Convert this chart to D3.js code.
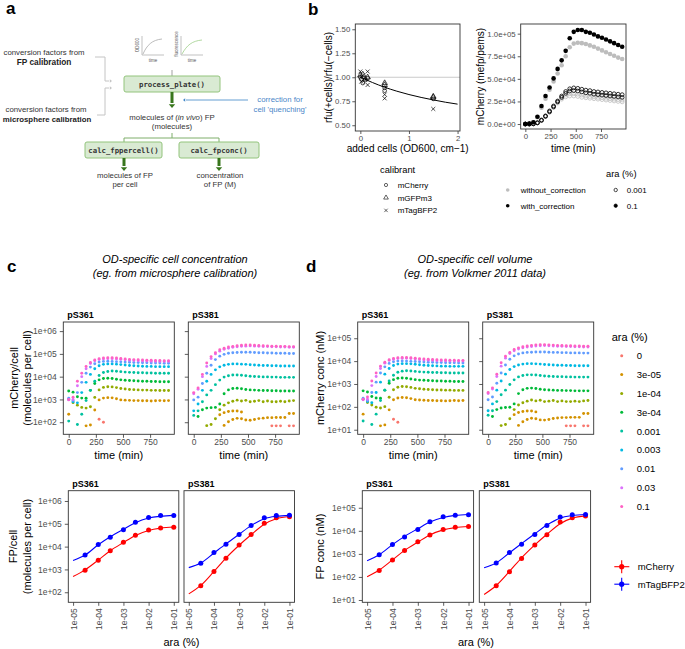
<!DOCTYPE html>
<html><head><meta charset="utf-8">
<script src="https://cdn.jsdelivr.net/npm/d3@7/dist/d3.min.js"></script>
<style>html,body{margin:0;padding:0;background:#fff;}svg{display:block;}</style>
</head><body><svg id="fig" width="685" height="649"></svg>
<script>
// ================= DATA =================
// panel b (left): quenching calibration
const calibAdded = [0,0.02,0.05,0.1,0.15,0.5,0.5,1.5, 0,0.05,0.1,0.15,0.5,0.5,1.5,1.5, 0,0.02,0.05,0.15,0.15,0.5,0.5,1.5];
const calibRatio = [1.0,0.98,0.94,0.97,0.99,0.89,0.86,0.775, 1.02,1.03,0.98,1.0,0.94,0.92,0.80,0.79, 1.06,0.955,1.02,1.06,0.92,0.82,0.78,0.67];
const calibName  = ["mCherry","mCherry","mCherry","mCherry","mCherry","mCherry","mCherry","mCherry",
  "mGFPm3","mGFPm3","mGFPm3","mGFPm3","mGFPm3","mGFPm3","mGFPm3","mGFPm3",
  "mTagBFP2","mTagBFP2","mTagBFP2","mTagBFP2","mTagBFP2","mTagBFP2","mTagBFP2","mTagBFP2"];
const calibrants = ["mCherry","mGFPm3","mTagBFP2"];
const quenchFitX = [0,0.25,0.5,0.75,1,1.25,1.5,1.75,2];
const quenchFitY = [1.0,0.945,0.896,0.855,0.82,0.79,0.764,0.74,0.72];

// panel b (right): mCherry (mefp/pems, x1000)
const timeB = [0,40,80,120,160,200,240,280,320,360,400,440,480,520,560,600,640,680,720,760,800,840,880,920,960];
const withCorr01     = [0,0.5,2,8,20,31,40.5,50.5,61,70.5,81,95,102,104,104,102,101,99,97,95.5,93.5,91.5,89.5,87.5,85.5];
const withoutCorr01  = [0,0.5,2,7.5,18,28,38,47,56,65,75,85,89,90,89.5,88.5,87,85.5,83.5,81.5,79.5,77.5,75.5,73.5,72];
const withCorr0001a  = [0,0,0.3,1.5,4.5,9,14.5,20,25.5,31,36,39,40,39.5,38.5,37.5,37,36,35.5,35,34.5,34,33.5,33,32.5];
const withCorr0001b  = [0,0,0.2,1.2,4,8.5,13.5,19,24.5,29.5,34,36.5,37,36.5,35.5,34.5,34,33,32.5,32,31.5,31,30.5,30,29.5];
const withoutCorr0001a = [0,0,0.3,1.4,4.3,8.7,14,19.2,24.3,29,32,33.5,33.5,33,32,31,30.5,30,29.5,29,28.5,28,27.5,27,26.5];
const withoutCorr0001b = [0,0,0.2,1.1,3.8,8.2,13,18.2,23.2,27.5,30,31,31,30.5,29.5,29,28.5,28,27.5,27,26.5,26,25.5,25,24.5];

// panels c/d (top): time courses, log10 values
const araLevels = ["0","3e-05","1e-04","3e-04","0.001","0.003","0.01","0.03","0.1"];
const araColors = ["#F8766D","#D39200","#93AA00","#00BA38","#00C19F","#00B9E3","#619CFF","#DB72FB","#FF61C3"];
const timeMin = [0,40,80,120,160,200,240,280,320,360,400,440,480,520,560,600,640,680,720,760,800,840,880,920];
const N = null;
const cellPS361 = [
 [N,N,N,N,N,N,N,2.13,2.0,N,N,N,N,N,N,N,N,N,N,N,N,N,N,N],
 [2.35,N,N,N,1.84,1.88,2.54,2.98,3.06,3.08,3.07,3.03,2.98,2.97,2.96,2.95,2.95,2.94,2.94,2.93,2.94,2.95,2.94,2.95],
 [N,2.86,2.75,2.65,2.62,2.68,3.09,3.42,3.53,3.56,3.55,3.52,3.48,3.46,3.44,3.43,3.42,3.41,3.41,3.40,3.40,3.39,3.39,3.39],
 [3.37,3.32,3.12,3.06,3.05,3.40,3.70,3.86,3.92,3.93,3.92,3.89,3.86,3.84,3.83,3.82,3.81,3.80,3.80,3.79,3.79,3.78,3.78,3.78],
 [2.05,N,1.90,2.35,2.95,3.40,3.80,4.05,4.18,4.23,4.25,4.24,4.22,4.20,4.19,4.18,4.17,4.17,4.16,4.16,4.15,4.15,4.15,4.15],
 [3.00,2.90,2.85,3.30,3.75,4.10,4.35,4.48,4.54,4.56,4.56,4.55,4.53,4.51,4.49,4.48,4.47,4.46,4.45,4.45,4.44,4.44,4.44,4.44],
 [3.05,2.95,3.30,3.75,4.15,4.42,4.57,4.64,4.67,4.68,4.67,4.66,4.65,4.64,4.63,4.62,4.62,4.61,4.61,4.60,4.60,4.60,4.59,4.59],
 [2.98,3.00,3.60,4.00,4.35,4.58,4.70,4.75,4.78,4.79,4.79,4.78,4.76,4.74,4.72,4.71,4.70,4.69,4.69,4.68,4.68,4.67,4.67,4.67],
 [3.00,3.10,3.80,4.15,4.45,4.62,4.73,4.79,4.82,4.83,4.83,4.82,4.80,4.78,4.76,4.75,4.74,4.73,4.72,4.72,4.71,4.71,4.70,4.70]];
const cellPS381 = [
 [N,N,N,N,N,N,N,N,N,N,N,N,N,N,N,N,N,N,1.84,1.84,1.84,N,1.84,1.84],
 [N,N,N,N,N,N,2.33,2.42,2.47,2.49,2.49,2.45,N,N,N,N,N,N,N,N,N,N,2.38,2.38],
 [N,N,N,1.85,1.90,2.15,2.55,2.75,2.85,2.92,2.97,2.93,2.96,2.90,2.92,2.95,2.90,2.93,2.90,2.90,2.92,2.90,2.93,2.95],
 [N,2.25,2.55,2.62,2.64,2.65,2.80,3.25,3.42,3.48,3.49,3.47,3.44,3.42,3.41,3.40,3.39,3.39,3.38,3.38,3.37,3.37,3.37,3.37],
 [2.30,2.50,2.90,3.20,3.40,3.65,3.85,3.98,4.04,4.07,4.07,4.06,4.04,4.02,4.01,4.00,3.99,3.99,3.98,3.98,3.97,3.97,3.97,3.97],
 [2.50,2.80,3.40,3.80,4.10,4.30,4.43,4.50,4.54,4.56,4.56,4.55,4.54,4.52,4.51,4.50,4.49,4.49,4.48,4.48,4.47,4.47,4.47,4.47],
 [2.98,3.10,3.70,4.15,4.50,4.75,4.90,4.98,5.03,5.05,5.06,5.07,5.07,5.07,5.06,5.05,5.05,5.04,5.04,5.03,5.03,5.03,5.02,5.02],
 [3.25,3.45,4.00,4.45,4.80,5.00,5.12,5.20,5.25,5.29,5.31,5.33,5.34,5.35,5.34,5.33,5.32,5.32,5.31,5.31,5.30,5.30,5.29,5.29],
 [3.30,3.50,4.10,4.60,4.88,5.05,5.18,5.25,5.30,5.33,5.36,5.38,5.39,5.39,5.38,5.37,5.36,5.35,5.34,5.34,5.33,5.33,5.32,5.32]];
const cellPS381_3e05_rep2 = [N,N,N,N,N,N,N,1.86,2.02,2.12,2.17,2.15,2.10,2.09,2.12,2.16,2.18,2.20,2.20,2.21,2.21,2.21,N,N];
const concPS361 = [
 [N,N,N,N,N,N,N,1.46,1.33,N,N,N,N,N,N,N,N,N,N,N,N,N,N,N],
 [1.68,N,N,N,1.17,1.21,1.87,2.31,2.39,2.41,2.40,2.36,2.31,2.30,2.29,2.28,2.28,2.27,2.27,2.26,2.27,2.28,2.27,2.28],
 [N,2.19,2.08,1.98,1.95,2.01,2.42,2.75,2.86,2.89,2.88,2.85,2.81,2.79,2.77,2.76,2.75,2.74,2.74,2.73,2.73,2.72,2.72,2.72],
 [2.70,2.65,2.45,2.39,2.38,2.73,3.03,3.19,3.25,3.26,3.25,3.22,3.19,3.17,3.16,3.15,3.14,3.13,3.13,3.12,3.12,3.11,3.11,3.11],
 [1.38,N,1.23,1.68,2.28,2.73,3.13,3.38,3.51,3.56,3.58,3.57,3.55,3.53,3.52,3.51,3.50,3.50,3.49,3.49,3.48,3.48,3.48,3.48],
 [2.33,2.23,2.18,2.63,3.08,3.43,3.68,3.81,3.87,3.89,3.89,3.88,3.86,3.84,3.82,3.81,3.80,3.79,3.78,3.78,3.77,3.77,3.77,3.77],
 [2.38,2.28,2.63,3.08,3.48,3.75,3.90,3.97,4.00,4.01,4.00,3.99,3.98,3.97,3.96,3.95,3.95,3.94,3.94,3.93,3.93,3.93,3.92,3.92],
 [2.31,2.33,2.93,3.33,3.68,3.91,4.03,4.08,4.11,4.12,4.12,4.11,4.09,4.07,4.05,4.04,4.03,4.02,4.02,4.01,4.01,4.00,4.00,4.00],
 [2.33,2.43,3.13,3.48,3.78,3.95,4.06,4.12,4.15,4.16,4.16,4.15,4.13,4.11,4.09,4.08,4.07,4.06,4.05,4.05,4.04,4.04,4.03,4.03]];
const concPS381 = [
 [N,N,N,N,N,N,N,N,N,N,N,N,N,N,N,N,N,N,1.17,1.17,1.17,N,1.17,1.17],
 [N,N,N,N,N,N,1.66,1.75,1.80,1.82,1.82,1.78,N,N,N,N,N,N,N,N,N,N,1.71,1.71],
 [N,N,N,1.18,1.23,1.48,1.88,2.08,2.18,2.25,2.30,2.26,2.29,2.23,2.25,2.28,2.23,2.26,2.23,2.23,2.25,2.23,2.26,2.28],
 [N,1.58,1.88,1.95,1.97,1.98,2.13,2.58,2.75,2.81,2.82,2.80,2.77,2.75,2.74,2.73,2.72,2.72,2.71,2.71,2.70,2.70,2.70,2.70],
 [1.63,1.83,2.23,2.53,2.73,2.98,3.18,3.31,3.37,3.40,3.40,3.39,3.37,3.35,3.34,3.33,3.32,3.32,3.31,3.31,3.30,3.30,3.30,3.30],
 [1.83,2.13,2.73,3.13,3.43,3.63,3.76,3.83,3.87,3.89,3.89,3.88,3.87,3.85,3.84,3.83,3.82,3.82,3.81,3.81,3.80,3.80,3.80,3.80],
 [2.31,2.43,3.03,3.48,3.83,4.08,4.23,4.31,4.36,4.38,4.39,4.40,4.40,4.40,4.39,4.38,4.38,4.37,4.37,4.36,4.36,4.36,4.35,4.35],
 [2.58,2.78,3.33,3.78,4.13,4.33,4.45,4.53,4.58,4.62,4.64,4.66,4.67,4.68,4.67,4.66,4.65,4.65,4.64,4.64,4.63,4.63,4.62,4.62],
 [2.63,2.83,3.43,3.93,4.21,4.38,4.51,4.58,4.63,4.66,4.69,4.71,4.72,4.72,4.71,4.70,4.69,4.68,4.67,4.67,4.66,4.66,4.65,4.65]];
const concPS381_3e05_rep2 = [N,N,N,N,N,N,N,1.19,1.35,1.45,1.50,1.48,1.43,1.42,1.45,1.49,1.51,1.53,1.53,1.54,1.54,1.54,N,N];

// panels c/d (bottom): dose response, log10 values
const araDose = [3e-5,1e-4,3e-4,1e-3,3e-3,1e-2,3e-2,1e-1];
const fitDose = [1e-5,3e-5,1e-4,3e-4,1e-3,3e-3,1e-2,3e-2,1e-1];
const cellMCherry361 = [2.96,3.40,3.82,4.19,4.50,4.73,4.82,4.85];
const cellBFP361     = [3.635,4.09,4.41,4.74,5.07,5.28,5.36,5.36];
const cellMCherry381 = [2.29,2.91,3.49,4.07,4.53,5.02,5.26,5.31];
const cellBFP381     = [3.27,3.74,4.10,4.53,4.92,5.27,5.36,5.37];
const fitCellMCherry361 = [2.69,2.98,3.41,3.82,4.18,4.49,4.71,4.81,4.86];
const fitCellBFP361     = [3.39,3.63,4.08,4.43,4.76,5.05,5.25,5.33,5.37];
const fitCellMCherry381 = [1.93,2.30,2.91,3.50,4.06,4.52,4.98,5.22,5.32];
const fitCellBFP381     = [3.08,3.28,3.72,4.12,4.54,4.92,5.22,5.33,5.37];
const concMCherry361 = [2.28,2.73,3.15,3.53,3.82,4.06,4.15,4.19];
const concBFP361     = [2.96,3.41,3.73,4.06,4.39,4.61,4.68,4.70];
const concMCherry381 = [1.62,2.23,2.80,3.38,3.83,4.38,4.57,4.64];
const concBFP381     = [2.60,3.06,3.42,3.84,4.23,4.60,4.70,4.71];
const fitConcMCherry361 = [2.01,2.30,2.74,3.15,3.51,3.82,4.04,4.14,4.19];
const fitConcBFP361     = [2.70,2.96,3.40,3.76,4.09,4.38,4.58,4.67,4.71];
const fitConcMCherry381 = [1.24,1.63,2.24,2.83,3.39,3.85,4.31,4.55,4.65];
const fitConcBFP381     = [2.40,2.61,3.05,3.45,3.87,4.25,4.55,4.66,4.71];
const fpNames = ["mCherry","mTagBFP2"];
const fpColors = ["#FF0000","#0000FF"];

// ================= DRAWING =================
const FONT = "'Liberation Sans', Arial, Helvetica, sans-serif";
const MONO = "'DejaVu Sans Mono', 'Liberation Mono', monospace";
const svg = d3.select("#fig");
svg.append("rect").attr("width",685).attr("height",649).attr("fill","#fff");

function txt(g,x,y,s,o={}){
  const t=g.append("text").attr("x",x).attr("y",y).text(s)
    .attr("font-family",o.family||FONT).attr("font-size",o.size||10)
    .attr("fill",o.fill||"#000").attr("text-anchor",o.anchor||"start");
  if(o.weight) t.attr("font-weight",o.weight);
  if(o.style) t.attr("font-style",o.style);
  if(o.dy) t.attr("dy",o.dy);
  if(o.rotate) t.attr("transform",`rotate(${o.rotate},${x},${y})`);
  return t;
}
function frame(g,l,t,w,h){
  g.append("rect").attr("x",l).attr("y",t).attr("width",w).attr("height",h)
   .attr("fill","none").attr("stroke","#333").attr("stroke-width",0.9);
}
function drawAxis(g,axis,tx,ty,fs){
  const a=g.append("g").attr("transform",`translate(${tx},${ty})`).call(axis);
  a.select(".domain").remove();
  a.attr("font-family",FONT).attr("font-size",fs);
  a.selectAll(".tick line").attr("stroke","#333").attr("stroke-width",0.8);
  a.selectAll(".tick text").attr("fill","#4d4d4d");
  return a;
}
function logFmt(v){const e=Math.round(Math.log10(v));return "1e"+(e<0?"-":"+")+String(Math.abs(e)).padStart(2,"0");}
function sciFmt(v){ if(v===0) return "0.0e+00"; const e=Math.floor(Math.log10(v)+1e-9); const m=v/Math.pow(10,e);
  return m.toFixed(1)+"e"+(e<0?"-":"+")+String(Math.abs(e)).padStart(2,"0"); }
function arrowHead(g,x,y,dir,size,color){
  let p;
  if(dir==='down') p=[[x-size,y-size*1.2],[x+size,y-size*1.2],[x,y]];
  else if(dir==='right') p=[[x-size*1.2,y-size],[x-size*1.2,y+size],[x,y]];
  else p=[[x+size*1.2,y-size],[x+size*1.2,y+size],[x,y]];
  g.append("path").attr("d","M"+p.map(d=>d.join(",")).join("L")+"Z").attr("fill",color);
}

// ---------- Panel a (schematic) ----------
const A = svg.append("g");
txt(A,6,14,"a",{size:17,weight:"bold"});
txt(A,44,55,"conversion factors from",{size:7.8,anchor:"middle",fill:"#333"});
txt(A,44,64.5,"FP calibration",{size:8.3,anchor:"middle",weight:"bold",fill:"#222"});
txt(A,46,112,"conversion factors from",{size:7.8,anchor:"middle",fill:"#333"});
txt(A,47,121.5,"microsphere calibration",{size:7.8,anchor:"middle",weight:"bold",fill:"#222"});
A.append("path").attr("d","M95,57H105V81H109M97,115H105V88H109").attr("fill","none").attr("stroke","#c4c4c4").attr("stroke-width",1);
arrowHead(A,112,81,'right',1.8,"#c4c4c4");
arrowHead(A,112,88,'right',1.8,"#c4c4c4");
// mini charts
A.append("path").attr("d","M142,36V55H164").attr("fill","none").attr("stroke","#999").attr("stroke-width",0.6);
A.append("path").attr("d","M143,54C147,45 152,40 162,39").attr("fill","none").attr("stroke","#aaa").attr("stroke-width",0.8);
txt(A,139,45,"OD600",{size:4.5,anchor:"middle",fill:"#555",rotate:-90});
txt(A,153,61.5,"time",{size:4.5,anchor:"middle",fill:"#555"});
A.append("path").attr("d","M181,36V55H203").attr("fill","none").attr("stroke","#999").attr("stroke-width",0.6);
A.append("path").attr("d","M182,54C187,45 192,41 202,40").attr("fill","none").attr("stroke","#9fcf8a").attr("stroke-width",0.8);
txt(A,178,44,"fluorescence",{size:4.5,anchor:"middle",fill:"#555",rotate:-90});
txt(A,192,61.5,"time",{size:4.5,anchor:"middle",fill:"#555"});
A.append("line").attr("x1",172).attr("x2",172).attr("y1",70).attr("y2",76).attr("stroke","#d0d0d0").attr("stroke-width",2);
function box(x,y,w,h,label){
  A.append("rect").attr("x",x).attr("y",y).attr("width",w).attr("height",h).attr("rx",2)
   .attr("fill","#d9ead3").attr("stroke","#93c47d").attr("stroke-width",1);
  txt(A,x+w/2,y+h/2+2.6,label,{family:MONO,size:7.3,anchor:"middle",weight:"bold",fill:"#333"});
}
box(124,76,96,16,"process_plate()");
A.append("line").attr("x1",172).attr("x2",172).attr("y1",92).attr("y2",103).attr("stroke","#38761d").attr("stroke-width",3);
arrowHead(A,172,108,'down',3.2,"#38761d");
A.append("line").attr("x1",248).attr("x2",186).attr("y1",100).attr("y2",100).attr("stroke","#3d85c6").attr("stroke-width",0.8);
arrowHead(A,183,100,'left',1.8,"#3d85c6");
const mt = txt(A,172,120,"",{size:7.8,anchor:"middle",fill:"#333"});
mt.append("tspan").text("molecules of (");
mt.append("tspan").attr("font-style","italic").text("in vivo");
mt.append("tspan").text(") FP");
txt(A,172,129,"(molecules)",{size:7.8,anchor:"middle",fill:"#333"});
A.append("path").attr("d","M172,133V138M124,142V138H219V142").attr("fill","none").attr("stroke","#7fae6a").attr("stroke-width",1);
box(85,142,77,16,"calc_fppercell()");
box(179,142,80,16,"calc_fpconc()");
[124,219].forEach(x=>{
  A.append("line").attr("x1",x).attr("x2",x).attr("y1",158).attr("y2",166).attr("stroke","#38761d").attr("stroke-width",3);
  arrowHead(A,x,171,'down',3.2,"#38761d");
});
txt(A,125,178,"molecules of FP",{size:7.8,anchor:"middle",fill:"#333"});
txt(A,125,187,"per cell",{size:7.8,anchor:"middle",fill:"#333"});
txt(A,220,178,"concentration",{size:7.8,anchor:"middle",fill:"#333"});
txt(A,220,187,"of FP (M)",{size:7.8,anchor:"middle",fill:"#333"});
txt(A,280,101.5,"correction for",{size:7.8,anchor:"middle",fill:"#4a86c8"});
txt(A,280,112,"cell 'quenching'",{size:7.8,anchor:"middle",fill:"#4a86c8"});

// ---------- Panel b ----------
const B = svg.append("g");
txt(B,308,15,"b",{size:17,weight:"bold"});
const bL={l:355.3,t:24,w:104.7,h:107};
const xQ=d3.scaleLinear().domain([-0.104,2.05]).range([bL.l,bL.l+bL.w]);
const yQ=d3.scaleLinear().domain([0.44,1.555]).range([bL.t+bL.h,bL.t]);
B.append("line").attr("x1",bL.l).attr("x2",bL.l+bL.w).attr("y1",yQ(1)).attr("y2",yQ(1)).attr("stroke","#bdbdbd").attr("stroke-width",0.8);
B.append("path").datum(quenchFitX.map((x,i)=>[x,quenchFitY[i]]))
 .attr("d",d3.line().x(d=>xQ(d[0])).y(d=>yQ(d[1])).curve(d3.curveMonotoneX))
 .attr("fill","none").attr("stroke","#000").attr("stroke-width",1);
const symTypes={mCherry:d3.symbolCircle,mGFPm3:d3.symbolTriangle,mTagBFP2:d3.symbolTimes};
const symSizes={mCherry:11,mGFPm3:13,mTagBFP2:12};
calibAdded.forEach((x,i)=>{
  const n=calibName[i];
  B.append("path").attr("d",d3.symbol().type(symTypes[n]).size(symSizes[n])())
   .attr("transform",`translate(${xQ(x)},${yQ(calibRatio[i])})`)
   .attr("fill","none").attr("stroke","#000").attr("stroke-width",0.7);
});
frame(B,bL.l,bL.t,bL.w,bL.h);
drawAxis(B,d3.axisLeft(yQ).tickValues([0.5,0.75,1,1.25,1.5]).tickFormat(d3.format(".2f")).tickSize(3).tickPadding(2),bL.l,0,7.8);
drawAxis(B,d3.axisBottom(xQ).tickValues([0,1,2]).tickFormat(d3.format("d")).tickSize(3).tickPadding(1.5),0,bL.t+bL.h,7.8);
txt(B,bL.l+bL.w/2,152,"added cells (OD600, cm\u22121)",{size:10,anchor:"middle"});
txt(B,328,bL.t+bL.h/2,"rfu(+cells)/rfu(\u2212cells)",{size:10,anchor:"middle",rotate:-90,dy:"0.35em"});

const bR={l:520.7,t:24,w:105.3,h:105};
const xT=d3.scaleLinear().domain([-46,998]).range([bR.l,bR.l+bR.w]);
const yT=d3.scaleLinear().domain([-5500,110700]).range([bR.t+bR.h,bR.t]);
const bSeries=[
  {v:withoutCorr01,fill:"#bdbdbd",stroke:"none"},
  {v:withoutCorr0001a,fill:"none",stroke:"#bdbdbd"},
  {v:withoutCorr0001b,fill:"none",stroke:"#bdbdbd"},
  {v:withCorr01,fill:"#000",stroke:"none"},
  {v:withCorr0001a,fill:"none",stroke:"#000"},
  {v:withCorr0001b,fill:"none",stroke:"#000"}];
bSeries.forEach(s=>{
  B.append("g").selectAll("circle").data(timeB.map((t,j)=>[t,s.v[j]*1000])).join("circle")
   .attr("cx",d=>xT(d[0])).attr("cy",d=>yT(d[1])).attr("r",s.fill==="none"?1.9:2.3)
   .attr("fill",s.fill).attr("stroke",s.stroke).attr("stroke-width",0.8);
});
frame(B,bR.l,bR.t,bR.w,bR.h);
drawAxis(B,d3.axisLeft(yT).tickValues([0,25000,50000,75000,100000]).tickFormat(sciFmt).tickSize(3).tickPadding(2),bR.l,0,7.8);
drawAxis(B,d3.axisBottom(xT).tickValues([0,250,500,750]).tickSize(3).tickPadding(1.5),0,bR.t+bR.h,7.8);
txt(B,bR.l+bR.w/2,152,"time (min)",{size:10,anchor:"middle"});
txt(B,480.7,bR.t+bR.h/2,"mCherry (mefp/pems)",{size:10,anchor:"middle",rotate:-90,dy:"0.35em"});

txt(B,380,172.5,"calibrant",{size:9.3});
calibrants.forEach((n,i)=>{
  const y=185+i*12.7;
  B.append("path").attr("d",d3.symbol().type(symTypes[n]).size(symSizes[n]*0.75)())
   .attr("transform",`translate(386,${y})`).attr("fill","none").attr("stroke","#000").attr("stroke-width",0.6);
  txt(B,397.7,y+2.8,n,{size:8});
});
[["without_correction","#bdbdbd"],["with_correction","#000"]].forEach((d,i)=>{
  const y=190+i*15.7;
  B.append("circle").attr("cx",507.7).attr("cy",y).attr("r",1.8).attr("fill",d[1]);
  txt(B,520.7,y+2.8,d[0],{size:8});
});
txt(B,606,176.5,"ara (%)",{size:9.3});
[["0.001",false],["0.1",true]].forEach((d,i)=>{
  const y=190+i*15.7;
  B.append("circle").attr("cx",615.7).attr("cy",y).attr("r",1.7).attr("fill",d[1]?"#000":"none").attr("stroke","#000").attr("stroke-width",0.7);
  txt(B,626.7,y+2.8,d[0],{size:8});
});

// ---------- Panels c & d ----------
const C = svg.append("g");
txt(C,7,272,"c",{size:17,weight:"bold"});
txt(C,306,272,"d",{size:17,weight:"bold"});
txt(C,175,263,"OD-specific cell concentration",{size:11,style:"italic",anchor:"middle"});
txt(C,175,277,"(eg. from microsphere calibration)",{size:11,style:"italic",anchor:"middle"});
txt(C,475,263,"OD-specific cell volume",{size:11,style:"italic",anchor:"middle"});
txt(C,475,277,"(eg. from Volkmer 2011 data)",{size:11,style:"italic",anchor:"middle"});

function seriesList(arr, rep2){
  const s=[];
  arr.forEach((v,i)=>{ s.push({vals:v,color:araColors[i]}); if(i===1) s.push({vals:rep2,color:araColors[1]}); });
  return s;
}
function timePanel(left,top,w,h,logDom,series,exps,showLabels,strip){
  const x=d3.scaleLinear().domain([-50,973]).range([left,left+w]);
  const y=d3.scaleLog().domain([Math.pow(10,logDom[0]),Math.pow(10,logDom[1])]).range([top+h,top]);
  series.forEach(s=>{
    const pts=timeMin.map((t,j)=>[t,s.vals[j]]).filter(d=>d[1]!==null);
    C.append("g").selectAll("circle").data(pts).join("circle")
     .attr("cx",d=>x(d[0])).attr("cy",d=>y(Math.pow(10,d[1]))).attr("r",1.45).attr("fill",s.color);
  });
  frame(C,left,top,w,h);
  drawAxis(C,d3.axisLeft(y).tickValues(exps.map(e=>Math.pow(10,e))).tickFormat(showLabels?logFmt:()=>"").tickSize(3.5).tickPadding(3),left,0,8.5);
  drawAxis(C,d3.axisBottom(x).tickValues([0,250,500,750]).tickFormat(d3.format("d")).tickSize(3.5).tickPadding(1.5),0,top+h,8.5);
  txt(C,left+w/2,459,"time (min)",{size:11,anchor:"middle"});
  txt(C,left+4,317.5,strip,{size:9,weight:"bold"});
}
const topY=322, topH=112.3, topW=111;
timePanel(63.3,topY,topW,topH,[1.47,6.40],seriesList(cellPS361,Array(24).fill(null)),[2,3,4,5,6],true,"pS361");
timePanel(188.3,topY,topW,topH,[1.47,6.40],seriesList(cellPS381,cellPS381_3e05_rep2),[2,3,4,5,6],false,"pS381");
timePanel(357.7,topY,topW,topH,[0.80,5.71],seriesList(concPS361,Array(24).fill(null)),[1,2,3,4,5],true,"pS361");
timePanel(482.7,topY,topW,topH,[0.80,5.71],seriesList(concPS381,concPS381_3e05_rep2),[1,2,3,4,5],false,"pS381");
txt(C,14,378,"mCherry/cell",{size:11,anchor:"middle",rotate:-90,dy:"0.35em"});
txt(C,27.5,378,"(molecules per cell)",{size:11,anchor:"middle",rotate:-90,dy:"0.35em"});
txt(C,320,378,"mCherry conc (nM)",{size:11,anchor:"middle",rotate:-90,dy:"0.35em"});

txt(C,611.7,340.5,"ara (%)",{size:11});
araLevels.forEach((lv,i)=>{
  const y=355.7+i*18.85;
  C.append("circle").attr("cx",621.7).attr("cy",y).attr("r",1.5).attr("fill",araColors[i]);
  txt(C,636.7,y+3.4,lv,{size:9.5});
});

function dosePanel(left,top,w,h,logDom,pts,fits,exps,showY,strip){
  const x=d3.scaleLog().domain([Math.pow(10,-5.19),Math.pow(10,-0.8)]).range([left,left+w]);
  const y=d3.scaleLog().domain([Math.pow(10,logDom[0]),Math.pow(10,logDom[1])]).range([top+h,top]);
  fits.forEach((f,k)=>{
    C.append("path").datum(fitDose.map((d,i)=>[d,f[i]]))
     .attr("d",d3.line().x(d=>x(d[0])).y(d=>y(Math.pow(10,d[1]))).curve(d3.curveMonotoneX))
     .attr("fill","none").attr("stroke",fpColors[k]).attr("stroke-width",1.1);
  });
  pts.forEach((p,k)=>{
    C.append("g").selectAll("circle").data(araDose.map((d,i)=>[d,p[i]])).join("circle")
     .attr("cx",d=>x(d[0])).attr("cy",d=>y(Math.pow(10,d[1]))).attr("r",2.5).attr("fill",fpColors[k]);
  });
  frame(C,left,top,w,h);
  if(showY) drawAxis(C,d3.axisLeft(y).tickValues(exps.map(e=>Math.pow(10,e))).tickFormat(logFmt).tickSize(3.5).tickPadding(3),left,0,8.5);
  const ax=drawAxis(C,d3.axisBottom(x).tickValues([1e-5,1e-4,1e-3,1e-2,1e-1]).tickFormat(logFmt).tickSize(3.5).tickPadding(2),0,top+h,8.5);
  ax.selectAll(".tick text").attr("transform","rotate(-90)").attr("text-anchor","end")
    .attr("x",-6).attr("y",0).attr("dy","0.35em");
  txt(C,left+4,487,strip,{size:9,weight:"bold"});
}
const botY=490.7, botH=111.6;
dosePanel(68.3,botY,110.5,botH,[1.56,6.45],[cellMCherry361,cellBFP361],[fitCellMCherry361,fitCellBFP361],[2,3,4,5,6],true,"pS361");
dosePanel(184,botY,110.5,botH,[1.56,6.45],[cellMCherry381,cellBFP381],[fitCellMCherry381,fitCellBFP381],[2,3,4,5,6],false,"pS381");
dosePanel(362.3,botY,111.3,botH,[0.9,5.74],[concMCherry361,concBFP361],[fitConcMCherry361,fitConcBFP361],[1,2,3,4,5],true,"pS361");
dosePanel(479.3,botY,111.3,botH,[0.9,5.74],[concMCherry381,concBFP381],[fitConcMCherry381,fitConcBFP381],[1,2,3,4,5],false,"pS381");
txt(C,13,546.5,"FP/cell",{size:11,anchor:"middle",rotate:-90,dy:"0.35em"});
txt(C,27,546.5,"(molecules per cell)",{size:11,anchor:"middle",rotate:-90,dy:"0.35em"});
txt(C,320,546.5,"FP conc (nM)",{size:11,anchor:"middle",rotate:-90,dy:"0.35em"});
txt(C,181.5,645.5,"ara (%)",{size:11,anchor:"middle"});
txt(C,476,645.5,"ara (%)",{size:11,anchor:"middle"});

fpNames.forEach((n,i)=>{
  const y=566.7+i*17.5;
  C.append("line").attr("x1",614.3).attr("x2",629.3).attr("y1",y).attr("y2",y).attr("stroke",fpColors[i]).attr("stroke-width",1.1);
  C.append("line").attr("x1",621.7).attr("x2",621.7).attr("y1",y-6.5).attr("y2",y+6.5).attr("stroke",fpColors[i]).attr("stroke-width",1.1);
  C.append("circle").attr("cx",621.7).attr("cy",y).attr("r",2.6).attr("fill",fpColors[i]);
  txt(C,637.7,y+3.4,n,{size:9.5});
});
</script></body></html>
